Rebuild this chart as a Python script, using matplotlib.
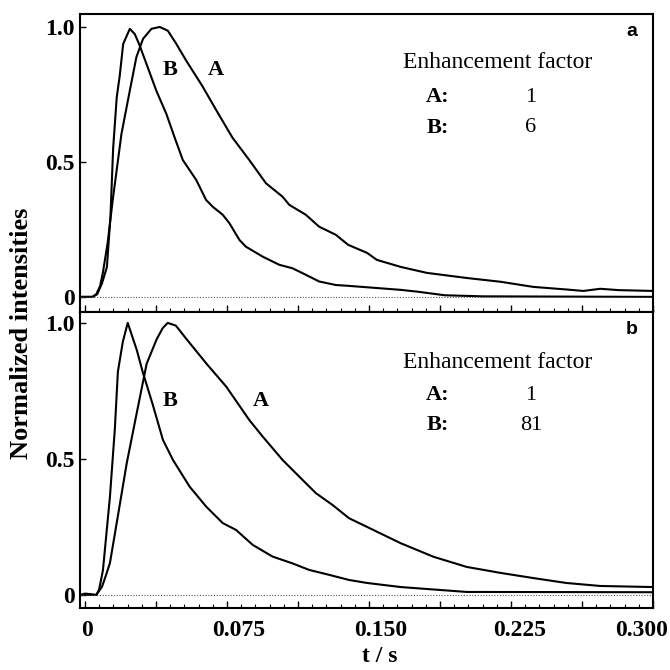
import matplotlib
matplotlib.use("Agg")
import matplotlib.pyplot as plt
import matplotlib.transforms as mtransforms
import numpy as np

# ---------------- data ----------------
t_a_A = [-0.0026, 0.004, 0.006, 0.008, 0.0095, 0.012, 0.0147, 0.0193, 0.0237, 0.0272, 0.0307,
         0.0351, 0.0395, 0.0438, 0.0483, 0.0535, 0.0621, 0.0695, 0.0779, 0.0868, 0.0956,
         0.1044, 0.1079, 0.1167, 0.1237, 0.1325, 0.139, 0.149, 0.1542, 0.1668, 0.1805,
         0.2016, 0.2195, 0.2368, 0.255, 0.2632, 0.2721, 0.282, 0.300]
v_a_A = [0, 0, 0.01, 0.04, 0.09, 0.20, 0.36, 0.604, 0.764, 0.889, 0.956,
         0.993, 1.00, 0.986, 0.937, 0.875, 0.78, 0.69, 0.59, 0.507, 0.421,
         0.371, 0.341, 0.304, 0.26, 0.23, 0.193, 0.163, 0.137, 0.111, 0.089,
         0.070, 0.056, 0.037, 0.027, 0.022, 0.030, 0.025, 0.022]

t_a_B = [-0.0026, 0.004, 0.0065, 0.009, 0.0116, 0.0135, 0.0149, 0.0168, 0.0184, 0.0202,
         0.0237, 0.0263, 0.0286, 0.0325, 0.0377, 0.043, 0.0474, 0.0517, 0.0588, 0.064,
         0.0675, 0.0728, 0.0763, 0.0816, 0.085, 0.0939, 0.1026, 0.1096, 0.1149, 0.1237,
         0.1325, 0.139, 0.1668, 0.176, 0.190, 0.210, 0.300]
v_a_B = [0, 0, 0.01, 0.05, 0.11, 0.30, 0.55, 0.74, 0.82, 0.937,
         0.993, 0.974, 0.937, 0.863, 0.764, 0.678, 0.59, 0.507, 0.433, 0.359,
         0.334, 0.304, 0.273, 0.211, 0.186, 0.149, 0.119, 0.106, 0.088, 0.057,
         0.044, 0.041, 0.026, 0.019, 0.006, 0.002, 0.0]

t_b_A = [-0.0026, 0.006, 0.009, 0.011, 0.0132, 0.0174, 0.0221, 0.0274, 0.0326, 0.0379,
         0.041, 0.0437, 0.048, 0.0537, 0.0642, 0.0747, 0.0868, 0.0939, 0.1044, 0.1149,
         0.122, 0.1307, 0.1395, 0.149, 0.1668, 0.1842, 0.2016, 0.2195, 0.2368, 0.2542,
         0.2721, 0.300]
v_b_A = [0, 0, 0.03, 0.07, 0.117, 0.29, 0.485, 0.67, 0.85, 0.94,
         0.98, 1.00, 0.99, 0.94, 0.85, 0.765, 0.643, 0.582, 0.496, 0.423,
         0.374, 0.331, 0.282, 0.25, 0.19, 0.14, 0.103, 0.081, 0.062, 0.044,
         0.033, 0.029]

t_b_B = [-0.0026, 0.0, 0.003, 0.006, 0.0075, 0.0095, 0.0132, 0.0158, 0.0174, 0.020,
         0.0226, 0.0274, 0.0305, 0.0358, 0.0412, 0.0465, 0.0553, 0.064, 0.0728, 0.0798,
         0.0886, 0.0991, 0.1096, 0.1184, 0.1289, 0.1395, 0.149, 0.1668, 0.2016, 0.300]
v_b_B = [0, 0.005, 0.003, 0, 0.02, 0.09, 0.36, 0.61, 0.82, 0.93,
         1.00, 0.90, 0.82, 0.70, 0.57, 0.496, 0.398, 0.325, 0.264, 0.239,
         0.184, 0.141, 0.116, 0.092, 0.074, 0.055, 0.044, 0.029, 0.011, 0.010]

x_ticks = [0, 0.075, 0.150, 0.225, 0.300]
x_tick_labels = ["0", "0.075", "0.150", "0.225", "0.300"]
y_ticks = [0, 0.5, 1.0]
y_tick_labels = ["0", "0.5", "1.0"]
factors_a = ["1", "6"]
factors_b = ["1", "81"]

# ---------------- figure ----------------
SERIF = ["Liberation Serif", "DejaVu Serif"]
fig = plt.figure(figsize=(6.7, 6.7), dpi=100)
W = 670.0

def fx(px):
    return px / W

def fy(py):
    return 1 - py / W

left, right = fx(80), fx(653)
ax_a = fig.add_axes([left, fy(312), right - left, fy(14) - fy(312)])
ax_b = fig.add_axes([left, fy(608), right - left, fy(312) - fy(608)])

# (axes, curves, ylim, letter, factors, B label pos, A label pos, text rows in pixels)
panels = [
    (ax_a, t_a_A, v_a_A, t_a_B, v_a_B, (-0.056, 1.048), "a", factors_a,
     (0.0447, 0.84), (0.069, 0.84), (32, 63, 97, 128)),
    (ax_b, t_b_A, v_b_A, t_b_B, v_b_B, (-0.048, 1.04), "b", factors_b,
     (0.0447, 0.713), (0.093, 0.713), (329, 363, 395, 425)),
]

for ax, tA, vA, tB, vB, ylim, letter, facs, posB, posA, rows in panels:
    ax.plot(tA, vA, color="black", lw=1.5, solid_joinstyle="round")
    ax.plot(tB, vB, color="black", lw=1.5, solid_joinstyle="round")
    ax.axhline(0, color="#555555", lw=0.8, ls=(0, (1, 1.5)))
    ax.set_xlim(-0.0026, 0.3)
    ax.set_ylim(*ylim)
    for s in ax.spines.values():
        s.set_linewidth(1.5)
    ax.set_xticks(np.arange(0, 0.3001, 0.0375))
    ax.set_xticks(np.arange(0, 0.3001, 0.0075), minor=True)
    ax.tick_params(axis="x", which="major", direction="in", length=5, width=1.0)
    ax.tick_params(axis="x", which="minor", direction="in", length=3, width=0.8)
    ax.set_yticks(y_ticks)
    ax.set_yticklabels(y_tick_labels, fontfamily=SERIF, fontweight="bold", fontsize=17)
    ax.tick_params(axis="y", direction="in", length=4, width=1.0, pad=4)
    ax.set_xticklabels([])

    ax.text(posB[0], posB[1], "B", fontfamily=SERIF, fontweight="bold", fontsize=16,
            ha="center", va="center")
    ax.text(posA[0], posA[1], "A", fontfamily=SERIF, fontweight="bold", fontsize=16,
            ha="center", va="center")

    r_let, r_ef, r_a, r_b = rows
    fig.text(fx(632), fy(r_let), letter, family=["Liberation Sans", "DejaVu Sans"],
             fontweight="bold", fontsize=14, ha="center", va="center")
    fig.text(fx(498), fy(r_ef), "Enhancement factor", family=SERIF,
             fontsize=17, ha="center", va="center")
    fig.text(fx(438), fy(r_a), "A:", family=SERIF, fontweight="bold",
             fontsize=16, ha="center", va="center")
    fig.text(fx(531), fy(r_a), facs[0], family=SERIF,
             fontsize=16, ha="center", va="center")
    fig.text(fx(438), fy(r_b), "B:", family=SERIF, fontweight="bold",
             fontsize=16, ha="center", va="center")
    fig.text(fx(531), fy(r_b), facs[1], family=SERIF,
             fontsize=16, ha="center", va="center")

# x tick labels on the bottom panel only (positions in the original are slightly offset)
label_shift_px = [2, 12, 12, 9, -11]
blend = mtransforms.blended_transform_factory(ax_b.transData, ax_b.transAxes)
for xv, lab, sh in zip(x_ticks, x_tick_labels, label_shift_px):
    tr = blend + mtransforms.ScaledTranslation(sh / 100.0, 0, fig.dpi_scale_trans)
    ax_b.text(xv, -0.04, lab, transform=tr, fontfamily=SERIF, fontweight="bold",
              fontsize=17, ha="center", va="top")

fig.text(fx(380), fy(656), "t / s", family=SERIF, fontweight="bold", fontsize=17,
         ha="center", va="center")

fig.text(fx(22), fy(333), "Normalized intensities", rotation=90, family=SERIF,
         fontweight="bold", fontsize=19, ha="center", va="center")

fig.savefig("out.png", dpi=100)
